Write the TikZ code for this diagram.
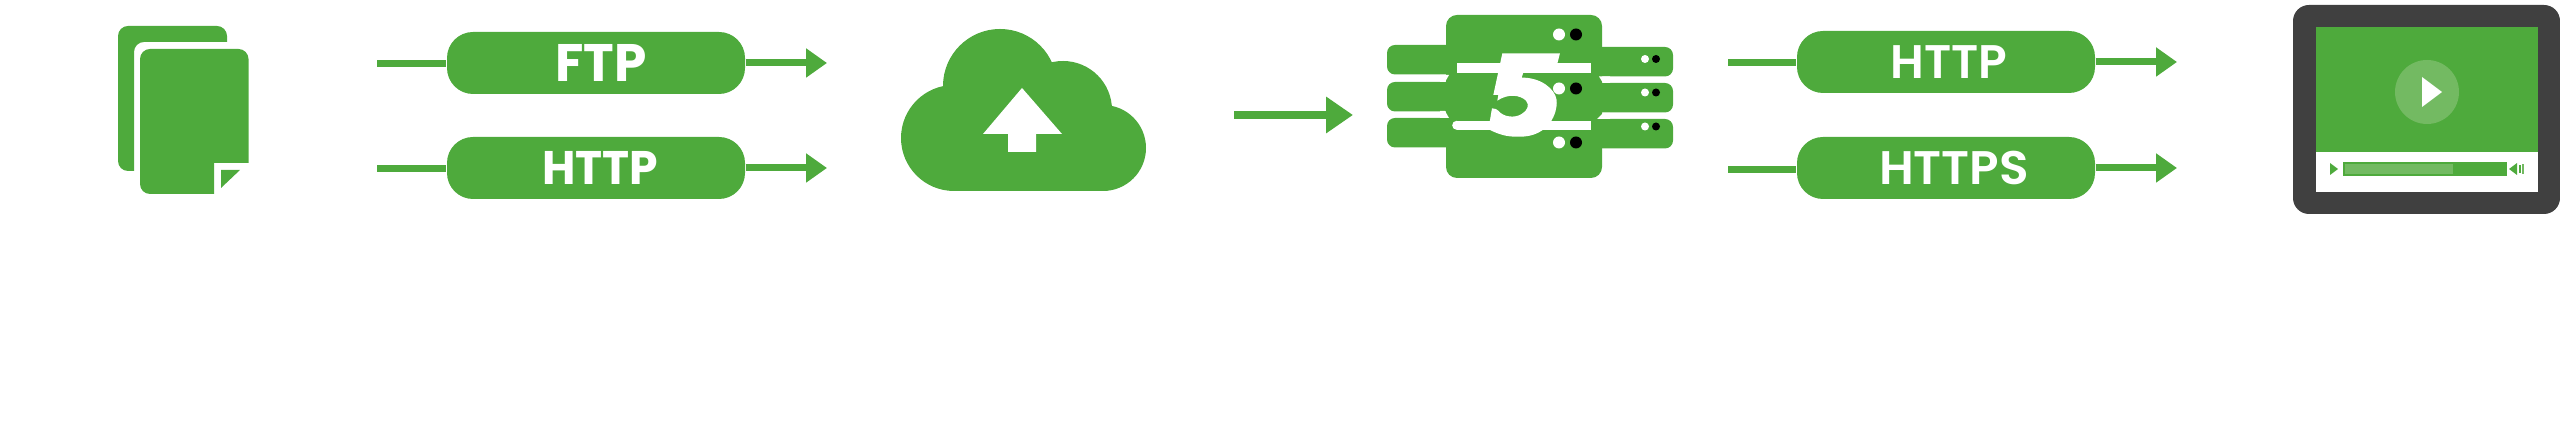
\documentclass[tikz,border=0pt]{standalone}
\usepackage{fontspec}
\usepackage{graphicx}
\setmainfont{Poppins}
\newfontfamily\mediumfont{Poppins SemiBold}
\usetikzlibrary{arrows.meta}
\definecolor{flowgreen}{RGB}{78,170,60}
\definecolor{lightgreen}{RGB}{115,186,98}
\definecolor{framegray}{RGB}{64,64,64}

\begin{document}
\begin{tikzpicture}[x=0.1mm, y=-0.1mm]
\tikzstyle{pill}=[rectangle, fill=flowgreen, text=white, inner sep=0pt, rounded corners=2.6mm, minimum width=29.8mm, minimum height=6.2mm, font=\fontsize{13.4pt}{14pt}\selectfont\mediumfont];
\tikzstyle{wire}=[flowgreen, line width=0.7mm];
\tikzstyle{flow}=[wire, -{Triangle[length=2.1mm, width=2.8mm]}];
\tikzstyle{solid green}=[fill=flowgreen];
\tikzstyle{cut}=[fill=white];
\useasboundingbox (0,0) rectangle (2560,428);

% Draw the files
\fill[solid green] (134,171) [rounded corners=1mm] -- (118,171) -- (118,26) -- (227,26) [sharp corners] -- (227,42) [rounded corners=1mm] -- (134,42) [sharp corners] -- cycle;
\fill[solid green] (214,194) [rounded corners=1mm] -- (140,194) -- (140,49) -- (248.5,49) [sharp corners] -- (248.5,163) -- (214,163) -- cycle;
\fill[solid green] (221,170) -- (240,170) -- (221,188) -- cycle;

% Draw the pills and their connectors
\node[pill, font=\fontsize{13.4pt}{14pt}\selectfont\bfseries] (ftp) at (596,63) {\hspace{1mm}\scalebox{1.1}[1.12]{FTP}};
\node[pill, font=\fontsize{13.4pt}{14pt}\selectfont\bfseries] (httpa) at (596,168) {\hspace{0.8mm}\scalebox{0.97}[1]{HTTP}};
\node[pill] (httpb) at (1946,62) {\hspace{0.6mm}HTTP};
\node[pill] (https) at (1946,168) {\hspace{1.6mm}\scalebox{1.03}[1]{HTTPS}};

\coordinate (ftpin) at (377,64);
\coordinate (ftpout) at (827,63);
\coordinate (httpain) at (377,169);
\coordinate (httpaout) at (827,168);
\coordinate (httpbin) at (1728,63);
\coordinate (httpbout) at (2177,62);
\coordinate (httpsin) at (1728,170);
\coordinate (httpsout) at (2177,168);
\coordinate (cloudout) at (1234,115);
\coordinate (serverin) at (1353,115);

\foreach \pillname/\inname/\outname in {ftp/ftpin/ftpout, httpa/httpain/httpaout, httpb/httpbin/httpbout, https/httpsin/httpsout} {
    \draw[wire] (\inname) -- (\inname -| \pillname.west);
    \draw[flow] (\outname -| \pillname.east) -- (\outname);
}
\draw[flow, line width=0.8mm, -{Triangle[length=2.7mm, width=3.5mm]}] (cloudout) -- (serverin);

% Draw the cloud
\fill[solid green] (954,138) circle (5.3mm) (1000,86) circle (5.7mm) (1063,110) circle (4.9mm) (1103,148) circle (4.3mm);
\fill[solid green] (954,100) rectangle (1103,191);
\fill[cut] (1022,88) -- (1062,134) -- (1036,134) -- (1036,152) -- (1008,152) -- (1008,134) -- (983,134) -- cycle;

% Draw the servers
\foreach \ytop in {45,82,118}
    \fill[solid green, rounded corners=0.8mm] (1387,\ytop) rectangle ++(80,29.5);
\foreach \ytop in {47,83,119}
    \fill[solid green, rounded corners=0.8mm] (1590,\ytop) rectangle ++(83,29.5);
\fill[solid green, rounded corners=1.1mm] (1446,15) rectangle (1602,178);

\fill[cut] (1449,75) -- (1445,82) -- (1440,82) -- (1440,75) -- cycle;
\fill[cut] (1445,111) -- (1449,118) -- (1440,118) -- (1440,111) -- cycle;
\fill[cut] (1599,76.5) -- (1603,83) -- (1610,83) -- (1610,76.5) -- cycle;
\fill[cut] (1603,113) -- (1597,119) -- (1610,119) -- (1610,113) -- cycle;

\foreach \y in {34.5,88.5,142.5} {
    \fill[white] (1559,\y) circle (0.6mm);
    \fill[black] (1576,\y) circle (0.6mm);
}
\foreach \y in {59,92.5,126.5} {
    \fill[white] (1645,\y) circle (0.4mm);
    \fill[black] (1656,\y) circle (0.4mm);
}

% Draw the five on the servers
\begin{scope}[shift={(1440,40)}, x=0.03333mm, y=-0.03333mm]
\fill[white] (50,68) rectangle (453,98);
\fill[white] (50,242) rectangle (453,270);
\fill[white] (50,256) circle (0.45mm);
\fill[white] (187,40) -- (360,40) -- (345,98) -- (250,98) -- (245,113)
    .. controls (300,112) and (345,145) .. (350,180)
    .. controls (352,205) and (345,225) .. (330,250)
    .. controls (300,285) and (265,292) .. (225,290)
    .. controls (195,290) and (170,280) .. (150,270)
    -- (150,240) -- (156,205)
    .. controls (165,205) and (170,208) .. (175,212)
    .. controls (190,232) and (225,235) .. (245,222)
    .. controls (262,212) and (270,195) .. (258,182)
    .. controls (240,165) and (205,160) .. (172,182)
    -- (175,165) -- (160,165) -- cycle;
\end{scope}

% Draw the video player
\fill[framegray, rounded corners=1.6mm] (2293,5) rectangle (2560,214);
\fill[white] (2316,27) rectangle (2538,192);
\fill[solid green] (2316,27) rectangle (2538,152);
\fill[lightgreen] (2427,92) circle (3.2mm);
\fill[white] (2422,77) -- (2442,92) -- (2422,107) -- cycle;
\fill[solid green] (2330,163) -- (2338,169) -- (2330,175) -- cycle;
\fill[solid green] (2343,162) rectangle (2507,176);
\fill[lightgreen] (2345,164) rectangle (2453,174);
\fill[solid green] (2509,169) -- (2517,163) -- (2517,175) -- cycle;
\fill[solid green] (2519,165) rectangle (2521,173);
\fill[lightgreen] (2522,164) rectangle (2524,174);

\end{tikzpicture}
\end{document}
